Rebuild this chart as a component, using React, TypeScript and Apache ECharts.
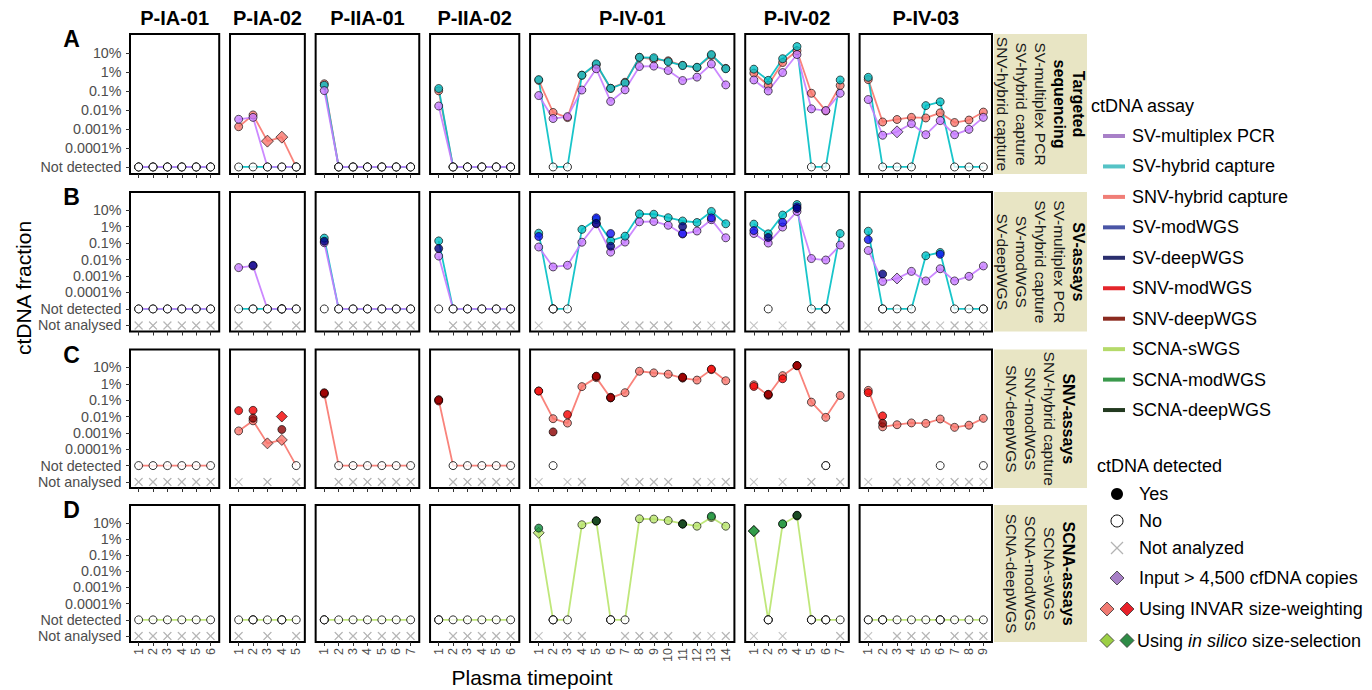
import React, { useEffect, useRef } from "react";
import * as echarts from "echarts";

const ND = "ND";
const NA = "NA";

const patients = ["P-IA-01", "P-IA-02", "P-IIA-01", "P-IIA-02", "P-IV-01", "P-IV-02", "P-IV-03"];
const timepointCounts = [6, 5, 7, 6, 14, 7, 9];
const yTickValues = [-6, -5, -4, -3, -2, -1, 0, 1];
const yTickLabels = ["Not analysed", "Not detected", "0.0001%", "0.001%", "0.01%", "0.1%", "1%", "10%"];
const rowLetters = ["A", "B", "C", "D"];

// values: log10 of ctDNA fraction in %, "ND" = not detected, "NA" = not analysed
const svMultiplexPCR = [
  [ND, ND, ND, ND, ND, ND],
  [-2.49, -2.39, ND, ND, ND],
  [-0.98, ND, ND, ND, ND, ND, ND],
  [-1.79, ND, ND, ND, ND, ND],
  [-1.24, -2.45, -2.35, -0.95, 0.17, -1.55, -0.94, 0.29, 0.31, 0.08, -0.45, -0.27, 0.42, -0.68],
  [-0.42, -1.0, -0.03, 0.92, -1.94, -2.03, -1.12],
  [-1.45, -3.33, -3.15, -2.72, -3.3, -2.56, -3.3, -3.02, -2.39],
];
const svHybridCapture = [
  [ND, ND, ND, ND, ND, ND],
  [ND, ND, ND, ND, ND],
  [-0.7, ND, ND, ND, ND, ND, ND],
  [-0.87, ND, ND, ND, ND, ND],
  [-0.4, ND, ND, -0.17, 0.43, -0.86, -0.58, 0.77, 0.75, 0.54, 0.34, 0.25, 0.92, 0.17],
  [0.15, -0.44, 0.7, 1.34, ND, ND, -0.42],
  [-0.28, ND, ND, ND, -1.77, -1.57, ND, ND, ND],
];
const snvHybridCapture = [
  [ND, ND, ND, ND, ND, ND],
  [-2.88, -2.26, -3.64, -3.43, ND],
  [-0.62, ND, ND, ND, ND, ND, ND],
  [-0.99, ND, ND, ND, ND, ND],
  [-0.44, -2.13, -2.4, -0.17, 0.38, -0.86, -0.54, 0.77, 0.67, 0.59, 0.35, 0.23, 0.87, 0.19],
  [-0.06, -0.7, 0.5, 1.12, -1.12, -2.05, -0.71],
  [-0.4, -2.63, -2.5, -2.39, -2.42, -2.15, -2.66, -2.53, -2.11],
];
const svModWGS = [
  [NA, NA, NA, NA, NA, NA],
  [NA, ND, NA, ND, NA],
  [ND, NA, NA, NA, NA, NA, NA],
  [ND, NA, NA, NA, NA, NA],
  [-0.6, ND, NA, NA, 0.53, -0.42, NA, NA, NA, NA, -0.42, NA, 0.53, NA],
  [-0.24, ND, 0.25, 1.2, NA, ND, NA],
  [-0.79, ND, NA, NA, NA, -1.68, NA, NA, ND],
];
const svDeepWGS = [
  [NA, NA, NA, NA, NA, NA],
  [NA, -2.35, NA, ND, NA],
  [-0.89, NA, NA, NA, NA, NA, NA],
  [-1.33, NA, NA, NA, NA, NA],
  [NA, ND, NA, NA, 0.19, -1.19, NA, NA, NA, NA, 0.01, NA, NA, NA],
  [NA, -0.66, NA, 1.1, NA, ND, NA],
  [NA, -2.88, NA, NA, NA, NA, NA, NA, NA],
];
const snvModWGS = [
  [NA, NA, NA, NA, NA, NA],
  [-1.64, -1.62, NA, -2.0, NA],
  [-0.58, NA, NA, NA, NA, NA, NA],
  [-1.05, NA, NA, NA, NA, NA],
  [-0.44, ND, -1.88, NA, 0.45, -0.82, NA, NA, NA, NA, 0.38, NA, 0.9, NA],
  [-0.16, -0.66, 0.31, 1.1, NA, ND, NA],
  [-0.54, -1.96, NA, NA, NA, ND, NA, NA, ND],
];
const snvDeepWGS = [
  [NA, NA, NA, NA, NA, NA],
  [NA, -2.1, NA, -2.79, NA],
  [-0.54, NA, NA, NA, NA, NA, NA],
  [-0.97, NA, NA, NA, NA, NA],
  [NA, -2.94, NA, NA, 0.47, -0.85, NA, NA, NA, NA, 0.41, NA, NA, NA],
  [NA, -0.64, NA, 1.12, NA, ND, NA],
  [NA, -2.41, NA, NA, NA, NA, NA, NA, NA],
];
const scnaSWGS = [
  [ND, ND, ND, ND, ND, ND],
  [ND, ND, ND, ND, ND],
  [ND, ND, ND, ND, ND, ND, ND],
  [ND, ND, ND, ND, ND, ND],
  [0.38, ND, ND, 0.88, 1.1, ND, ND, 1.25, 1.23, 1.14, 0.95, 0.79, 1.33, 0.79],
  [0.49, ND, 0.92, 1.42, ND, ND, ND],
  [ND, ND, ND, ND, ND, ND, ND, ND, ND],
];
const scnaModWGS = [
  [NA, NA, NA, NA, NA, NA],
  [NA, ND, NA, ND, NA],
  [ND, NA, NA, NA, NA, NA, NA],
  [ND, NA, NA, NA, NA, NA],
  [0.67, ND, NA, NA, 1.12, ND, NA, NA, NA, NA, 0.92, NA, 1.41, NA],
  [0.49, ND, 0.94, 1.45, ND, ND, NA],
  [ND, ND, NA, NA, NA, ND, NA, NA, NA],
];
const scnaDeepWGS = [
  [NA, NA, NA, NA, NA, NA],
  [NA, ND, NA, ND, NA],
  [ND, NA, NA, NA, NA, NA, NA],
  [ND, NA, NA, NA, NA, NA],
  [NA, ND, NA, NA, 1.12, ND, NA, NA, NA, NA, 0.92, NA, NA, NA],
  [NA, ND, NA, 1.47, ND, ND, NA],
  [NA, ND, NA, NA, NA, ND, NA, NA, NA],
];

// diamond-marked points: [patient index, timepoint]
const svMultiplexPCRInputDiamonds = [[6, 3]];
const snvHybridCaptureInvarDiamonds = [[1, 3], [1, 4]];
const snvModWGSInvarDiamonds = [[1, 4]];
const scnaSWGSInSilicoDiamonds = [[4, 1], [5, 1]];
const scnaModWGSInSilicoDiamonds = [[5, 1]];

const assayNames = [
  "SV-multiplex PCR", "SV-hybrid capture", "SNV-hybrid capture", "SV-modWGS", "SV-deepWGS",
  "SNV-modWGS", "SNV-deepWGS", "SCNA-sWGS", "SCNA-modWGS", "SCNA-deepWGS",
];
const legendColors = [
  "#a880c8", "#55c3c6", "#f07e77", "#4a55a6", "#2a2e6e",
  "#e4252b", "#8b2a1f", "#b5da6a", "#3a994c", "#233a20",
];

const FONT = "'Liberation Sans', Arial, Helvetica, sans-serif";
const CROSS = "path://M0,0.9L0.9,0L5,4.1L9.1,0L10,0.9L5.9,5L10,9.1L9.1,10L5,5.9L0.9,10L0,9.1L4.1,5Z";

const assays: any = {
  mpcr: { data: svMultiplexPCR, color: "#C77CFF", diamonds: svMultiplexPCRInputDiamonds },
  svhc: { data: svHybridCapture, color: "#00BFC4", diamonds: [] },
  snvhc: { data: snvHybridCapture, color: "#F8766D", diamonds: snvHybridCaptureInvarDiamonds },
  svmod: { data: svModWGS, color: "#1010f0", diamonds: [] },
  svdeep: { data: svDeepWGS, color: "#000080", diamonds: [] },
  snvmod: { data: snvModWGS, color: "#f20000", diamonds: snvModWGSInvarDiamonds },
  snvdeep: { data: snvDeepWGS, color: "#8b0000", diamonds: [] },
  swgs: { data: scnaSWGS, color: "#b8e46c", diamonds: scnaSWGSInSilicoDiamonds },
  scnamod: { data: scnaModWGS, color: "#0e8a3c", diamonds: scnaModWGSInSilicoDiamonds },
  scnadeep: { data: scnaDeepWGS, color: "#16381a", diamonds: [] },
};

const rowsDef = [
  { lines: ["snvhc", "svhc", "mpcr"], points: ["snvhc", "svhc", "mpcr"], min: -5.37, max: 2.0, ticks: 7,
    strip: [["Targeted", true], ["sequencing", true], ["SV-multiplex PCR", false], ["SV-hybrid capture", false], ["SNV-hybrid capture", false]] },
  { lines: ["svhc", "mpcr"], points: ["mpcr", "svhc", "svmod", "svdeep"], min: -6.37, max: 2.1, ticks: 8,
    strip: [["SV-assays", true], ["SV-multiplex PCR", false], ["SV-hybrid capture", false], ["SV-modWGS", false], ["SV-deepWGS", false]] },
  { lines: ["snvhc"], points: ["snvhc", "snvmod", "snvdeep"], min: -6.37, max: 2.1, ticks: 8,
    strip: [["SNV-assays", true], ["SNV-hybrid capture", false], ["SNV-modWGS", false], ["SNV-deepWGS", false]] },
  { lines: ["swgs"], points: ["swgs", "scnamod", "scnadeep"], min: -6.37, max: 2.1, ticks: 8,
    strip: [["SCNA-assays", true], ["SCNA-sWGS", false], ["SCNA-modWGS", false], ["SCNA-deepWGS", false]] },
];

const rowTop = [34, 192, 349.5, 505];
const rowBottom = [174, 331.5, 488, 642];
const UNIT = 14.39;
const GAP = 10.8;
const colLeft: number[] = [];
const colWidth: number[] = [];
(() => {
  let x = 130;
  timepointCounts.forEach((n) => {
    colLeft.push(x);
    const w = (n + 0.2) * UNIT;
    colWidth.push(w);
    x += w + GAP;
  });
})();

function yOf(v: any) {
  if (v === ND) return -5;
  if (v === NA) return -6;
  return v;
}

function txt(x: number, y: number, text: string, size: number, opts: any = {}) {
  const align = opts.align || "left";
  return {
    type: "text",
    x,
    y,
    rotation: opts.rotation || 0,
    silent: true,
    style: {
      text,
      fontSize: size,
      fontFamily: FONT,
      fontWeight: opts.bold ? "bold" : "normal",
      fill: opts.fill || "#000",
      align,
      verticalAlign: "middle",
      textAlign: align,
      textVerticalAlign: "middle",
      rich: opts.rich,
    },
  };
}

function buildOption() {
  const grid: any[] = [];
  const xAxis: any[] = [];
  const yAxis: any[] = [];
  const series: any[] = [];

  rowsDef.forEach((row, r) => {
    const yticks = yTickValues.slice(8 - row.ticks);
    patients.forEach((_p, c) => {
      const gi = r * 7 + c;
      const n = timepointCounts[c];
      const xt = Array.from({ length: n }, (_, i) => i + 1);
      grid.push({
        left: colLeft[c], top: rowTop[r], width: colWidth[c], height: rowBottom[r] - rowTop[r],
        show: true, borderColor: "#000", borderWidth: 2, backgroundColor: "#fff", containLabel: false,
      });
      xAxis.push({
        type: "value", gridIndex: gi, min: 0.4, max: n + 0.6,
        axisLine: { show: false, onZero: false },
        axisTick: { show: true, customValues: xt, length: 4, lineStyle: { color: "#333", width: 1 } },
        axisLabel: {
          show: r === 3, customValues: xt, rotate: 90, fontSize: 12.5, color: "#4d4d4d",
          margin: 6, fontFamily: FONT,
        },
        splitLine: { show: false },
      });
      yAxis.push({
        type: "value", gridIndex: gi, min: row.min, max: row.max,
        axisLine: { show: false, onZero: false },
        axisTick: { show: c === 0, customValues: yticks, length: 4, lineStyle: { color: "#333", width: 1 } },
        axisLabel: {
          show: c === 0, customValues: yticks, fontSize: 14.3, color: "#4d4d4d", margin: 8.5, fontFamily: FONT,
          formatter: (v: number) => yTickLabels[yTickValues.indexOf(Math.round(v))] || "",
        },
        splitLine: { show: false },
      });
      row.lines.forEach((key) => {
        const a = assays[key];
        series.push({
          type: "line", xAxisIndex: gi, yAxisIndex: gi, symbol: "none", silent: true, z: 2,
          data: a.data[c].map((v: any, i: number) => [i + 1, v === NA || v == null ? "-" : yOf(v)]),
          lineStyle: { color: a.color, width: 1.8, opacity: 0.9 },
        });
      });
      const pts: any[] = [];
      row.points.forEach((key) => {
        const a = assays[key];
        a.data[c].forEach((v: any, i: number) => {
          if (v == null) return;
          const t = i + 1;
          if (v === NA) {
            pts.push({ value: [t, -6], symbol: CROSS, symbolSize: 8.5, itemStyle: { color: "#b3b3b3", borderWidth: 0 } });
            return;
          }
          if (v === ND) {
            pts.push({ value: [t, -5], symbol: "circle", symbolSize: 8, itemStyle: { color: "#fff", borderColor: "#000", borderWidth: 1 } });
            return;
          }
          const dia = a.diamonds.some((d: number[]) => d[0] === c && d[1] === t);
          pts.push({
            value: [t, v], symbol: dia ? "diamond" : "circle", symbolSize: dia ? (r === 0 ? 12 : 11) : 8,
            itemStyle: { color: a.color, borderColor: "#000", borderWidth: 0.8 },
          });
        });
      });
      series.push({ type: "scatter", xAxisIndex: gi, yAxisIndex: gi, data: pts, z: 3, silent: true });
    });
  });

  const graphic: any[] = [];
  patients.forEach((p, c) => {
    graphic.push(txt(colLeft[c] + colWidth[c] / 2, 18, p, 20, { bold: true, align: "center" }));
  });
  rowLetters.forEach((L, r) => {
    graphic.push(txt(71.5, rowTop[r] + 5, L, 23, { bold: true, align: "center" }));
  });
  graphic.push(txt(23.5, 288, "ctDNA fraction", 21, { align: "center", rotation: Math.PI / 2 }));
  graphic.push(txt(532, 677, "Plasma timepoint", 21, { align: "center" }));

  // facet strips
  rowsDef.forEach((row, r) => {
    graphic.push({
      type: "rect", silent: true,
      shape: { x: 994, y: rowTop[r], width: 93, height: rowBottom[r] - rowTop[r] },
      style: { fill: "#e8e5c4" },
    });
    const k = row.strip.length;
    const cy = (rowTop[r] + rowBottom[r]) / 2;
    row.strip.forEach((s: any, i: number) => {
      const x = 1040 + ((k - 1) / 2 - i) * 19;
      graphic.push(txt(x, cy, s[0], s[1] ? 16 : 15.5, {
        bold: s[1], align: "center", rotation: -Math.PI / 2, fill: s[1] ? "#000" : "#1a1a1a",
      }));
    });
  });

  // legend: ctDNA assay
  graphic.push(txt(1091, 106, "ctDNA assay", 18));
  assayNames.forEach((name, i) => {
    const y = 136 + i * 30.45;
    graphic.push({
      type: "line", silent: true,
      shape: { x1: 1103, y1: y, x2: 1125, y2: y },
      style: { stroke: legendColors[i], lineWidth: 4 },
    });
    graphic.push(txt(1132, y, name, 18));
  });

  // legend: ctDNA detected
  graphic.push(txt(1097, 466, "ctDNA detected", 18));
  const lx = 1117;
  graphic.push({ type: "circle", silent: true, shape: { cx: lx, cy: 494, r: 6 }, style: { fill: "#000" } });
  graphic.push(txt(1139, 494, "Yes", 18));
  graphic.push({ type: "circle", silent: true, shape: { cx: lx, cy: 521, r: 6 }, style: { fill: "#fff", stroke: "#000", lineWidth: 1 } });
  graphic.push(txt(1139, 521, "No", 18));
  graphic.push({ type: "line", silent: true, shape: { x1: lx - 6, y1: 542, x2: lx + 6, y2: 554 }, style: { stroke: "#b3b3b3", lineWidth: 1.2 } });
  graphic.push({ type: "line", silent: true, shape: { x1: lx - 6, y1: 554, x2: lx + 6, y2: 542 }, style: { stroke: "#b3b3b3", lineWidth: 1.2 } });
  graphic.push(txt(1139, 548, "Not analyzed", 18));
  const diamond = (cx: number, cy: number, fill: string) => ({
    type: "polygon", silent: true,
    shape: { points: [[cx, cy - 7], [cx + 7, cy], [cx, cy + 7], [cx - 7, cy]] },
    style: { fill, stroke: "#333", lineWidth: 0.8 },
  });
  graphic.push(diamond(lx, 578, "#a77fc6"));
  graphic.push(txt(1139, 578, "Input > 4,500 cfDNA copies", 18));
  graphic.push(diamond(1107, 609, "#f07a72"));
  graphic.push(diamond(1127, 609, "#e8212a"));
  graphic.push(txt(1139, 609, "Using INVAR size-weighting", 18));
  graphic.push(diamond(1107, 640.5, "#9ccf45"));
  graphic.push(diamond(1127, 640.5, "#2e8b46"));
  graphic.push(txt(1137, 640.5, "{n|Using }{i|in silico}{n| size-selection}", 18, {
    rich: {
      n: { fontSize: 18, fontFamily: FONT, fill: "#000" },
      i: { fontSize: 18, fontFamily: FONT, fontStyle: "italic", fill: "#000" },
    },
  }));

  return {
    animation: false,
    backgroundColor: "#fff",
    textStyle: { fontFamily: FONT },
    grid, xAxis, yAxis, series, graphic,
  };
}

export default function App() {
  const ref = useRef<HTMLDivElement>(null);
  useEffect(() => {
    document.body.style.margin = "0";
    const chart = echarts.init(ref.current as HTMLDivElement, null, { renderer: "svg" });
    chart.setOption(buildOption() as any);
    return () => chart.dispose();
  }, []);
  return <div ref={ref} style={{ position: "absolute", left: 0, top: 0, width: 1372, height: 690, background: "#fff" }} />;
}
